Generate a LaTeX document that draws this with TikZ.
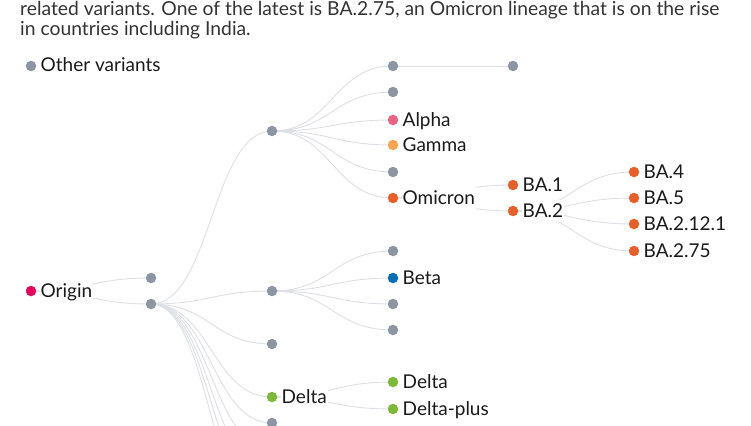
\documentclass[tikz,border=0pt]{standalone}
\usepackage{fontspec}
\setmainfont{Lato}
\usetikzlibrary{positioning, backgrounds}

\definecolor{dotgrey}{HTML}{8C95A1}
\definecolor{linkgrey}{HTML}{DCDFE4}
\definecolor{labelblack}{HTML}{1A1A1A}
\definecolor{headgrey}{HTML}{333333}
\definecolor{originred}{HTML}{E2095C}
\definecolor{alphapink}{HTML}{E96480}
\definecolor{gammaorange}{HTML}{F6A552}
\definecolor{omicronorange}{HTML}{E5602B}
\definecolor{betablue}{HTML}{0B6CB3}
\definecolor{deltagreen}{HTML}{7DB83A}

\begin{document}
\begin{tikzpicture}[x=1pt, y=-1pt,
  dot/.style={circle, fill=#1, inner sep=0pt, minimum size=10.5pt},
  dot/.default=dotgrey,
  lbl/.style={font=\fontsize{19}{19}\selectfont, text=labelblack, fill=white,
    inner sep=1pt, text height=16pt, text depth=4pt, right=3pt of #1},
  link/.style={draw=linkgrey, line width=0.9pt}]

\useasboundingbox (0,0) rectangle (751,425);
\clip (0,0) rectangle (751,425);

% intro text, cut at the top
\begin{scope}[every node/.style={anchor=base west, inner sep=0pt,
    text=headgrey, font=\fontsize{19.3}{19.3}\selectfont}]
\node (intro1) at (20,15.5) {related variants. One of the latest is BA.2.75, an Omicron lineage that is on the rise};
\node (intro2) at (20,35.5) {in countries including India.};
\end{scope}

% legend
\node [dot] (other) at (31,66) {};
\node [lbl=other] (other-t) {Other variants};

% tree, column by column
\node [dot=originred] (origin) at (31,291) {};

\node [dot] (g1a) at (151,278) {};
\node [dot] (g1b) at (151,304) {};

\node [dot] (g2a) at (272,131) {};
\node [dot] (g2b) at (272,291) {};
\node [dot] (g2c) at (272,344) {};
\node [dot=deltagreen] (delta) at (272,397) {};
\node [dot] (g2e) at (272,423) {};
\foreach \i/\y in {1/450,2/477,3/503,4/530}
  \coordinate (g2x\i) at (272,\y);

\node [dot] (g3a) at (393,66) {};
\node [dot] (g3b) at (393,92) {};
\node [dot=alphapink] (alpha) at (393,120) {};
\node [dot=gammaorange] (gamma) at (393,145) {};
\node [dot] (g3e) at (393,172) {};
\node [dot=omicronorange] (omicron) at (393,198) {};
\node [dot] (g3g) at (393,251) {};
\node [dot=betablue] (beta) at (393,278) {};
\node [dot] (g3i) at (393,304) {};
\node [dot] (g3j) at (393,330) {};
\node [dot=deltagreen] (delta1) at (393,382) {};
\node [dot=deltagreen] (deltaplus) at (393,409) {};

\node [dot] (g4a) at (513,66) {};
\node [dot=omicronorange] (ba1) at (513,185) {};
\node [dot=omicronorange] (ba2) at (513,211) {};

\node [dot=omicronorange] (ba4) at (634,172) {};
\node [dot=omicronorange] (ba5) at (634,198) {};
\node [dot=omicronorange] (ba2121) at (634,224) {};
\node [dot=omicronorange] (ba275) at (634,251) {};

% labels
\node [lbl=origin] (origin-t) {Origin};
\node [lbl=alpha] (alpha-t) {Alpha};
\node [lbl=gamma] (gamma-t) {Gamma};
\node [lbl=omicron] (omicron-t) {Omicron};
\node [lbl=beta] (beta-t) {Beta};
\node [lbl=delta] (delta-t) {Delta};
\node [lbl=delta1] (delta1-t) {Delta};
\node [lbl=deltaplus] (deltaplus-t) {Delta-plus};
\node [lbl=ba1] (ba1-t) {BA.1};
\node [lbl=ba2] (ba2-t) {BA.2};
\node [lbl=ba4] (ba4-t) {BA.4};
\node [lbl=ba5] (ba5-t) {BA.5};
\node [lbl=ba2121] (ba2121-t) {BA.2.12.1};
\node [lbl=ba275] (ba275-t) {BA.2.75};

% links behind everything
\begin{scope}[on background layer]
\foreach \a/\b in {origin/g1a, origin/g1b,
    g1b/g2a, g1b/g2b, g1b/g2c, g1b/delta, g1b/g2e,
    g1b/g2x1, g1b/g2x2, g1b/g2x3, g1b/g2x4,
    g2a/g3a, g2a/g3b, g2a/alpha, g2a/gamma, g2a/g3e, g2a/omicron,
    g2b/g3g, g2b/beta, g2b/g3i, g2b/g3j,
    delta/delta1, delta/deltaplus,
    g3a/g4a, omicron/ba1, omicron/ba2,
    ba2/ba4, ba2/ba5, ba2/ba2121, ba2/ba275}
  \draw [link] (\a.center) .. controls +(60,0) and +(-60,0) .. (\b.center);
\end{scope}

\end{tikzpicture}
\end{document}
